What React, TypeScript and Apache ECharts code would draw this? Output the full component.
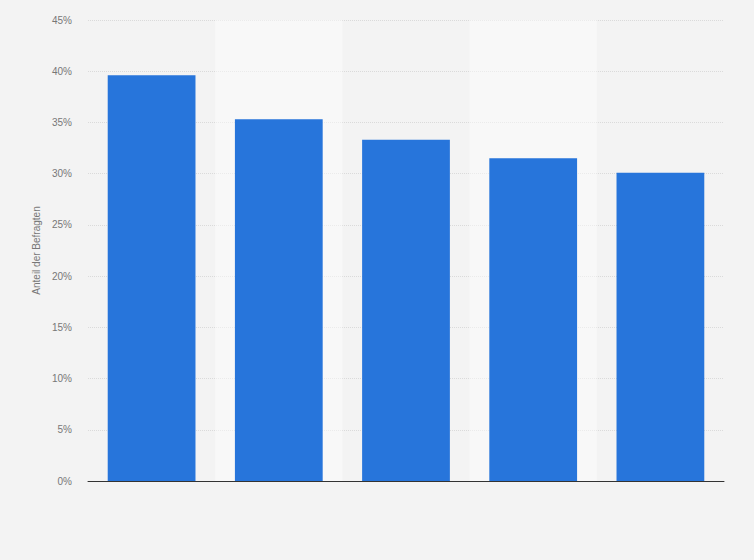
import React, { useEffect, useRef } from "react";
import * as echarts from "echarts";

const categories = ["Kategorie 1", "Kategorie 2", "Kategorie 3", "Kategorie 4", "Kategorie 5"];
const values = [39.6, 35.3, 33.3, 31.5, 30.1];
const yTicks = { min: 0, max: 45, interval: 5 };

export default function App() {
  const ref = useRef<HTMLDivElement>(null);
  useEffect(() => {
    if (!ref.current) return;
    const chart = echarts.init(ref.current, undefined, { renderer: "svg" });
    chart.setOption({
      animation: false,
      backgroundColor: "#f3f3f3",
      grid: { left: 88, right: 30, top: 20, bottom: 79 },
      xAxis: {
        type: "category",
        data: categories,
        axisLine: { show: true, lineStyle: { color: "#333", width: 1 } },
        axisTick: { show: false },
        axisLabel: { show: false },
        splitArea: {
          show: true,
          areaStyle: { color: ["rgba(255,255,255,0)", "rgba(255,255,255,0.45)"] },
        },
      },
      yAxis: {
        type: "value",
        min: yTicks.min,
        max: yTicks.max,
        interval: yTicks.interval,
        name: "Anteil der Befragten",
        nameLocation: "middle",
        nameGap: 45,
        nameTextStyle: { color: "#777", fontSize: 10, fontFamily: "Arial, Liberation Sans, sans-serif" },
        axisLine: { show: false },
        axisTick: { show: false },
        axisLabel: {
          formatter: "{value}%",
          color: "#777",
          fontSize: 10,
          margin: 16,
          fontFamily: "Arial, Liberation Sans, sans-serif",
        },
        splitLine: { show: true, lineStyle: { color: "#dadada", type: "dotted", width: 1 } },
      },
      series: [
        {
          type: "bar",
          data: values,
          barWidth: "69%",
          itemStyle: { color: "#2775db" },
        },
      ],
    });
    return () => chart.dispose();
  }, []);
  return (
    <div
      ref={ref}
      style={{ position: "fixed", left: 0, top: 0, width: 754, height: 560 }}
    />
  );
}
